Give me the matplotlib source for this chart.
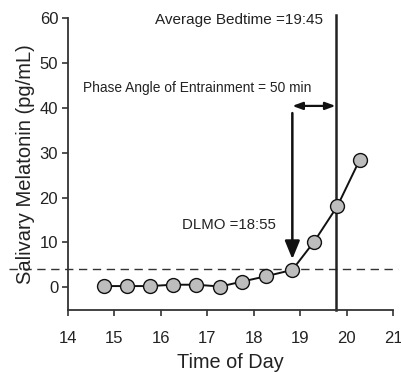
import matplotlib
matplotlib.use("Agg")
import matplotlib.pyplot as plt

plt.rcParams['font.family'] = ['Liberation Sans', 'DejaVu Sans']

times = [14.78, 15.27, 15.77, 16.26, 16.76, 17.28, 17.75, 18.27, 18.83, 19.3, 19.8, 20.28]
melatonin = [0.3, 0.3, 0.3, 0.6, 0.6, 0.2, 1.3, 2.5, 3.9, 10.2, 18.1, 28.4]
threshold = 4.2
dlmo = 18.83
bedtime = 19.76
xticks = [14, 15, 16, 17, 18, 19, 20, 21]
yticks = [0, 10, 20, 30, 40, 50, 60]

fig = plt.figure(figsize=(4.02, 3.72), dpi=100)
ax = fig.add_axes([0.169, 0.167, 0.809, 0.785])
ax.set_xlim(14, 21)
ax.set_ylim(-5, 60)

spc = '#333333'
for s in ['top', 'right']:
    ax.spines[s].set_visible(False)
for s in ['left', 'bottom']:
    ax.spines[s].set_color(spc)
    ax.spines[s].set_linewidth(1.3)
ax.tick_params(direction='out', length=4, width=1.2, color=spc, labelsize=12, labelcolor='#222222', pad=3)
ax.tick_params(axis='x', pad=11)
ax.set_xticks(xticks)
ax.set_yticks(yticks)

ax.plot([-0.18, 1.015], [threshold, threshold], transform=ax.get_yaxis_transform(),
        ls=(0, (6, 4)), color='#333333', lw=1.0, clip_on=False, zorder=1)
ax.plot([bedtime, bedtime], [-5, 60.7], color='#222222', lw=1.8, clip_on=False, zorder=2)

ax.plot(times, melatonin, '-o', color='#111111', lw=1.4, markersize=10,
        markerfacecolor='#bdbdbd', markeredgecolor='#111111', markeredgewidth=1.0, zorder=4)

ax.annotate('', xy=(dlmo, 6.3), xytext=(dlmo, 38.8),
            arrowprops=dict(arrowstyle='-|>,head_length=1.1,head_width=0.45', color='#111111', lw=1.8,
                            shrinkA=0, shrinkB=0))
ax.annotate('', xy=(dlmo, 40.4), xytext=(bedtime, 40.4),
            arrowprops=dict(arrowstyle='<|-|>,head_length=0.6,head_width=0.22', color='#111111', lw=1.6,
                            shrinkA=0, shrinkB=0))

ax.text(15.87, 59.5, 'Average Bedtime =19:45', fontsize=11, va='center', ha='left', color='#222222')
ax.text(14.32, 44.4, 'Phase Angle of Entrainment = 50 min', fontsize=9.9, va='center', ha='left', color='#222222')
ax.text(16.46, 13.8, 'DLMO =18:55', fontsize=10.8, va='center', ha='left', color='#222222')

ax.set_xlabel('Time of Day', fontsize=14.3, color='#222222', labelpad=5)
ax.set_ylabel('Salivary Melatonin (pg/mL)', fontsize=14.5, color='#222222', labelpad=3)

fig.savefig('out.png', dpi=100)
